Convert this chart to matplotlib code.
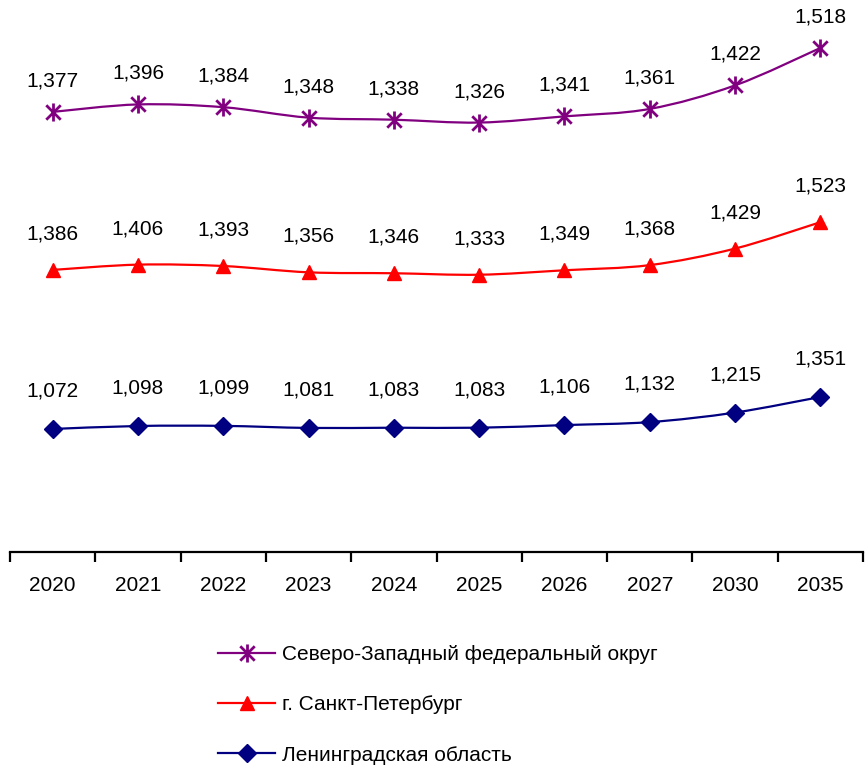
import numpy as np
import matplotlib
matplotlib.use("Agg")
import matplotlib.pyplot as plt
from matplotlib.path import Path
from matplotlib.patches import PathPatch
from matplotlib.lines import Line2D

plt.rcParams['font.family'] = ['Liberation Sans', 'DejaVu Sans']

years = ['2020', '2021', '2022', '2023', '2024', '2025', '2026', '2027', '2030', '2035']
lenobl = [1.072, 1.098, 1.099, 1.081, 1.083, 1.083, 1.106, 1.132, 1.215, 1.351]
spb = [1.386, 1.406, 1.393, 1.356, 1.346, 1.333, 1.349, 1.368, 1.429, 1.523]
szfo = [1.377, 1.396, 1.384, 1.348, 1.338, 1.326, 1.341, 1.361, 1.422, 1.518]

# Excel-style star marker: X with a vertical bar
star = Path([(0, -1), (0, 1), (-0.8, -0.8), (0.8, 0.8), (-0.8, 0.8), (0.8, -0.8)],
            [Path.MOVETO, Path.LINETO, Path.MOVETO, Path.LINETO, Path.MOVETO, Path.LINETO])

series = [
    ('Ленинградская область', lenobl, '#000080', 'D', 9.5, 38),
    ('г. Санкт-Петербург', spb, '#FF0000', '^', 10, 36),
    ('Северо-Западный федеральный округ', szfo, '#800080', star, 13, 31),
]

fig = plt.figure(figsize=(8.65, 7.69), dpi=100)
ax = fig.add_axes([10 / 865, (769 - 552) / 769, 853 / 865, 552 / 769])
ax.set_xlim(-0.5, len(years) - 0.5)
ax.set_ylim(0, 4.81)

x = np.arange(len(years))
cum = np.zeros(len(years))


def smooth_path(xs, ys):
    pts = np.column_stack([xs, ys])
    verts = [pts[0]]
    codes = [Path.MOVETO]
    n = len(pts)
    for i in range(n - 1):
        p0 = pts[i - 1] if i > 0 else pts[i]
        p1 = pts[i]
        p2 = pts[i + 1]
        p3 = pts[i + 2] if i + 2 < n else pts[i + 1]
        c1 = p1 + (p2 - p0) / 6.0
        c2 = p2 - (p3 - p1) / 6.0
        verts += [c1, c2, p2]
        codes += [Path.CURVE4] * 3
    return Path(verts, codes)


handles = {}
for name, vals, color, marker, ms, off in series:
    vals = np.array(vals)
    cum = cum + vals
    patch = PathPatch(smooth_path(x, cum), facecolor='none', edgecolor=color, lw=1.6, zorder=2)
    ax.add_patch(patch)
    mew = 2.0 if isinstance(marker, Path) else 1
    ax.plot(x, cum, linestyle='none', marker=marker, markersize=ms, color=color,
            markeredgewidth=mew, zorder=3)
    for xi, yi, v in zip(x, cum, vals):
        ax.annotate(f'{v:.3f}'.replace('.', ','), (xi, yi), xytext=(0, off),
                    textcoords='offset pixels', ha='center', va='center', fontsize=15)
    handles[name] = Line2D([], [], color=color, lw=1.6, marker=marker, markersize=ms,
                           markeredgewidth=mew)

for s in ['top', 'left', 'right']:
    ax.spines[s].set_visible(False)
ax.spines['bottom'].set_linewidth(1.6)
ax.set_yticks([])
ax.set_xticks(x)
ax.set_xticklabels(years, fontsize=15)
ax.set_xticks(np.arange(len(years) + 1) - 0.5, minor=True)
ax.tick_params(axis='x', which='major', length=0, pad=17)
ax.tick_params(axis='x', which='minor', length=7, width=1.6)

order = ['Северо-Западный федеральный округ', 'г. Санкт-Петербург', 'Ленинградская область']
fig.legend([handles[o] for o in order], order, loc='center left',
           bbox_to_anchor=(218 / 865, (769 - 705) / 769), frameon=False,
           fontsize=15, handlelength=2.75, handletextpad=0.33, labelspacing=1.5,
           borderpad=0, borderaxespad=0)

fig.savefig('out.png', dpi=100)
